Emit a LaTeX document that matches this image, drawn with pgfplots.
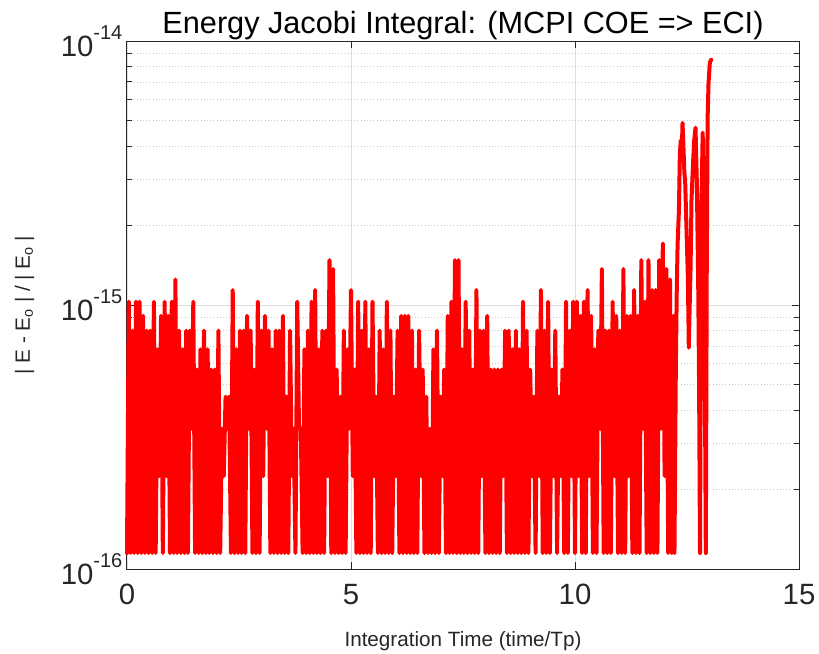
\documentclass[border=0pt]{standalone}
\usepackage{fontspec}
\setmainfont{Liberation Sans}
\usepackage{pgfplots}
\pgfplotsset{compat=1.18}
\definecolor{axgray}{RGB}{38,38,38}
\definecolor{grmaj}{RGB}{222,222,222}
\definecolor{grmin}{RGB}{200,200,200}
\newcommand{\tklab}[1]{10\raisebox{12.5pt}{\fontsize{15}{15}\selectfont #1}}
\begin{document}
\begin{tikzpicture}
\begin{axis}[name=ax, scale only axis, width=504pt, height=396pt,
  xmin=0, xmax=15, ymode=log, ymin=1e-16, ymax=1e-14,
  xtick={0,5,10,15}, xticklabels={0,5,10,15},
  ytick={1e-16,1e-15,1e-14}, yticklabels={\tklab{-16},\tklab{-15},\tklab{-14}},
  minor ytick={2e-16,3e-16,4e-16,5e-16,6e-16,7e-16,8e-16,9e-16,2e-15,3e-15,4e-15,5e-15,6e-15,7e-15,8e-15,9e-15},
  xmajorgrids, ymajorgrids, yminorgrids,
  major grid style={grmaj, line width=0.6pt},
  minor grid style={grmin, dotted, line width=0.6pt},
  tick align=inside, major tick length=5.25pt, minor tick length=3.5pt,
  every tick/.style={axgray, line width=0.75pt},
  axis line style={axgray, line width=0.75pt},
  ticklabel style={font=\fontsize{22}{22}\selectfont, text=axgray},
  xticklabel style={yshift=-8pt},
  every axis title shift=0pt,
  title={Energy Jacobi Integral: (MCPI COE => ECI)},
  title style={font=\fontsize{23}{23}\selectfont, at={(axis description cs:0.5,1.0152)}, anchor=base, inner sep=0pt},
  xlabel={Integration Time (time/Tp)},
  xlabel style={font=\fontsize{15.5}{15.5}\selectfont, text=axgray, at={(axis description cs:0.5,-0.1458)}, anchor=base, inner sep=0pt},
  ylabel={| E - E\textsubscript{o} | / | E\textsubscript{o} |},
  ylabel style={font=\fontsize{15.5}{15.5}\selectfont, text=axgray, at={(axis description cs:-0.1444,0.5)}, anchor=base, inner sep=0pt},
  clip=false,
]
\addplot[red, line width=3pt, line join=round, line cap=round] table[row sep=\\] {
x y\\
0.00 1.15e-16\\ 0.04 1.03e-15\\ 0.08 1.15e-16\\ 0.12 8e-16\\ 0.16 1.15e-16\\ 0.20 1.03e-15\\ 0.24 1.15e-16\\ 0.28 1.03e-15\\ 0.32 1.15e-16\\ 0.36 9.1e-16\\ 0.40 1.15e-16\\ 0.44 8e-16\\ 0.48 1.15e-16\\ 0.52 8e-16\\ 0.56 1.15e-16\\ 0.60 1.03e-15\\ 0.64 1.15e-16\\ 0.68 6.8e-16\\ 0.72 2.25e-16\\ 0.76 9.1e-16\\ 0.80 1.15e-16\\ 0.84 1.03e-15\\ 0.88 2.25e-16\\ 0.92 9.1e-16\\ 0.96 1.15e-16\\
1.00 1.03e-15\\ 1.04 1.15e-16\\ 1.08 1.25e-15\\ 1.12 1.15e-16\\ 1.16 8e-16\\ 1.20 1.15e-16\\ 1.24 6.8e-16\\ 1.28 1.15e-16\\ 1.32 8e-16\\ 1.36 1.15e-16\\ 1.40 8e-16\\ 1.44 3.4e-16\\ 1.48 1.03e-15\\ 1.52 1.15e-16\\ 1.56 5.7e-16\\ 1.60 1.15e-16\\ 1.64 6.8e-16\\ 1.68 1.15e-16\\ 1.72 8e-16\\ 1.76 1.15e-16\\ 1.80 6.8e-16\\ 1.84 1.15e-16\\ 1.88 5.7e-16\\ 1.92 1.15e-16\\ 1.96 5.7e-16\\
2.00 1.15e-16\\ 2.04 8e-16\\ 2.08 1.15e-16\\ 2.12 3.4e-16\\ 2.16 2.25e-16\\ 2.20 4.5e-16\\ 2.24 3.4e-16\\ 2.28 4.5e-16\\ 2.32 1.15e-16\\ 2.36 1.14e-15\\ 2.40 1.15e-16\\ 2.44 6.8e-16\\ 2.48 1.15e-16\\ 2.52 8e-16\\ 2.56 1.15e-16\\ 2.60 8e-16\\ 2.64 1.15e-16\\ 2.68 9.1e-16\\ 2.72 3.4e-16\\ 2.76 8e-16\\ 2.80 1.15e-16\\ 2.84 5.7e-16\\ 2.88 1.15e-16\\ 2.92 1.03e-15\\ 2.96 1.15e-16\\
3.00 8e-16\\ 3.04 2.25e-16\\ 3.08 9.1e-16\\ 3.12 3.4e-16\\ 3.16 8e-16\\ 3.20 1.15e-16\\ 3.24 6.8e-16\\ 3.28 1.15e-16\\ 3.32 8e-16\\ 3.36 1.15e-16\\ 3.40 8e-16\\ 3.44 1.15e-16\\ 3.48 9.1e-16\\ 3.52 1.15e-16\\ 3.56 4.5e-16\\ 3.60 1.15e-16\\ 3.64 8e-16\\ 3.68 2.25e-16\\ 3.72 3.4e-16\\ 3.76 1.15e-16\\ 3.80 1.03e-15\\ 3.84 3.4e-16\\ 3.88 3.4e-16\\ 3.92 1.15e-16\\ 3.96 6.8e-16\\
4.00 1.15e-16\\ 4.04 8e-16\\ 4.08 1.15e-16\\ 4.12 1.03e-15\\ 4.16 1.15e-16\\ 4.20 1.14e-15\\ 4.24 1.15e-16\\ 4.28 6.8e-16\\ 4.32 1.15e-16\\ 4.36 8e-16\\ 4.40 1.15e-16\\ 4.44 8e-16\\ 4.48 2.25e-16\\ 4.52 1.48e-15\\ 4.56 1.15e-16\\ 4.60 1.37e-15\\ 4.64 1.15e-16\\ 4.68 5.7e-16\\ 4.72 1.15e-16\\ 4.76 4.5e-16\\ 4.80 1.15e-16\\ 4.84 8e-16\\ 4.88 1.15e-16\\ 4.92 6.8e-16\\ 4.96 3.4e-16\\
5.00 1.14e-15\\ 5.04 2.25e-16\\ 5.08 5.7e-16\\ 5.12 1.15e-16\\ 5.16 1.03e-15\\ 5.20 1.15e-16\\ 5.24 8e-16\\ 5.28 1.15e-16\\ 5.32 1.03e-15\\ 5.36 1.15e-16\\ 5.40 6.8e-16\\ 5.44 1.15e-16\\ 5.48 1.03e-15\\ 5.52 2.25e-16\\ 5.56 4.5e-16\\ 5.60 1.15e-16\\ 5.64 8e-16\\ 5.68 1.15e-16\\ 5.72 6.8e-16\\ 5.76 1.15e-16\\ 5.80 1.03e-15\\ 5.84 1.15e-16\\ 5.88 8e-16\\ 5.92 1.15e-16\\ 5.96 4.5e-16\\
6.00 2.25e-16\\ 6.04 8e-16\\ 6.08 1.15e-16\\ 6.12 9.1e-16\\ 6.16 1.15e-16\\ 6.20 9.1e-16\\ 6.24 1.15e-16\\ 6.28 9.1e-16\\ 6.32 1.15e-16\\ 6.36 8e-16\\ 6.40 1.15e-16\\ 6.44 5.7e-16\\ 6.48 1.15e-16\\ 6.52 8e-16\\ 6.56 2.25e-16\\ 6.60 5.7e-16\\ 6.64 1.15e-16\\ 6.68 4.5e-16\\ 6.72 1.15e-16\\ 6.76 3.4e-16\\ 6.80 1.15e-16\\ 6.84 6.8e-16\\ 6.88 1.15e-16\\ 6.92 8e-16\\ 6.96 1.15e-16\\
7.00 4.5e-16\\ 7.04 2.25e-16\\ 7.08 5.7e-16\\ 7.12 1.15e-16\\ 7.16 9.1e-16\\ 7.20 1.15e-16\\ 7.24 1.03e-15\\ 7.28 1.15e-16\\ 7.32 1.48e-15\\ 7.36 1.15e-16\\ 7.40 1.48e-15\\ 7.44 1.15e-16\\ 7.48 6.8e-16\\ 7.52 1.15e-16\\ 7.56 1.03e-15\\ 7.60 1.15e-16\\ 7.64 8e-16\\ 7.68 1.15e-16\\ 7.72 5.7e-16\\ 7.76 1.15e-16\\ 7.80 1.14e-15\\ 7.84 1.15e-16\\ 7.88 8e-16\\ 7.92 2.25e-16\\ 7.96 8e-16\\
8.00 1.15e-16\\ 8.04 9.1e-16\\ 8.08 1.15e-16\\ 8.12 5.7e-16\\ 8.16 1.15e-16\\ 8.20 5.7e-16\\ 8.24 1.15e-16\\ 8.28 5.7e-16\\ 8.32 1.15e-16\\ 8.36 5.7e-16\\ 8.40 2.25e-16\\ 8.44 8e-16\\ 8.48 1.15e-16\\ 8.52 8e-16\\ 8.56 1.15e-16\\ 8.60 6.8e-16\\ 8.64 1.15e-16\\ 8.68 8e-16\\ 8.72 1.15e-16\\ 8.76 6.8e-16\\ 8.80 1.15e-16\\ 8.84 1.03e-15\\ 8.88 1.15e-16\\ 8.92 8e-16\\ 8.96 1.15e-16\\
9.00 5.7e-16\\ 9.04 2.25e-16\\ 9.08 4.5e-16\\ 9.12 1.15e-16\\ 9.16 8e-16\\ 9.20 2.25e-16\\ 9.24 1.14e-15\\ 9.28 1.15e-16\\ 9.32 8e-16\\ 9.36 1.15e-16\\ 9.40 1.03e-15\\ 9.44 1.15e-16\\ 9.48 5.7e-16\\ 9.52 2.25e-16\\ 9.56 8e-16\\ 9.60 1.15e-16\\ 9.64 4.5e-16\\ 9.68 2.25e-16\\ 9.72 5.7e-16\\ 9.76 1.15e-16\\ 9.80 1.03e-15\\ 9.84 1.15e-16\\ 9.88 8e-16\\ 9.92 2.25e-16\\ 9.96 1.03e-15\\
10.00 1.15e-16\\ 10.04 1.03e-15\\ 10.08 2.25e-16\\ 10.12 9.1e-16\\ 10.16 1.15e-16\\ 10.20 1.03e-15\\ 10.24 1.15e-16\\ 10.28 1.14e-15\\ 10.32 2.25e-16\\ 10.36 9.1e-16\\ 10.40 1.15e-16\\ 10.44 6.8e-16\\ 10.48 1.15e-16\\ 10.52 8e-16\\ 10.56 3.4e-16\\ 10.60 1.37e-15\\ 10.64 1.15e-16\\ 10.68 8e-16\\ 10.72 1.15e-16\\ 10.76 8e-16\\ 10.80 1.15e-16\\ 10.84 1.03e-15\\ 10.88 2.25e-16\\ 10.92 9.1e-16\\ 10.96 1.15e-16\\
11.00 8e-16\\ 11.04 1.15e-16\\ 11.08 1.37e-15\\ 11.12 1.15e-16\\ 11.16 9.1e-16\\ 11.20 2.25e-16\\ 11.24 9.1e-16\\ 11.28 1.15e-16\\ 11.32 1.14e-15\\ 11.36 1.15e-16\\ 11.40 9.1e-16\\ 11.44 1.15e-16\\ 11.48 1.48e-15\\ 11.52 3.4e-16\\ 11.56 1.03e-15\\ 11.60 1.15e-16\\ 11.64 1.48e-15\\ 11.68 1.15e-16\\ 11.72 1.14e-15\\ 11.76 1.15e-16\\ 11.80 1.14e-15\\ 11.84 1.15e-16\\ 11.88 1.48e-15\\ 11.92 3.4e-16\\ 11.96 1.71e-15\\
12.00 2.25e-16\\ 12.04 1.37e-15\\ 12.08 1.15e-16\\ 12.12 1.25e-15\\ 12.16 1.15e-16\\ 12.20 9.1e-16\\ 12.22 1.15e-16\\
12.25 5.6e-16\\ 12.27 1.1e-15\\ 12.29 1.7e-15\\ 12.32 2.3e-15\\ 12.34 3.7e-15\\ 12.36 4.2e-15\\ 12.38 3.6e-15\\ 12.40 4.9e-15\\ 12.42 4.0e-15\\ 12.44 3.2e-15\\ 12.46 2.9e-15\\ 12.49 1.9e-15\\ 12.52 1.26e-15\\ 12.54 6.9e-16\\ 12.56 1.0e-15\\ 12.58 1.4e-15\\ 12.60 2.5e-15\\ 12.64 3.6e-15\\ 12.66 4.2e-15\\ 12.69 4.7e-15\\ 12.72 2.9e-15\\ 12.75 1.2e-15\\ 12.77 4.9e-16\\ 12.79 1.15e-16\\ 12.82 2.3e-15\\ 12.85 4.5e-15\\ 12.87 2.5e-15\\ 12.89 1.0e-15\\ 12.92 1.15e-16\\ 12.94 1.26e-15\\ 12.96 5.1e-15\\ 12.98 6.9e-15\\ 13.01 8.3e-15\\ 13.04 8.5e-15\\
};
\end{axis}
\pgfresetboundingbox
\path[use as bounding box] ([xshift=-95.25pt,yshift=-63pt]ax.south west) rectangle ([xshift=15pt,yshift=30.75pt]ax.north east);
\end{tikzpicture}
\end{document}
